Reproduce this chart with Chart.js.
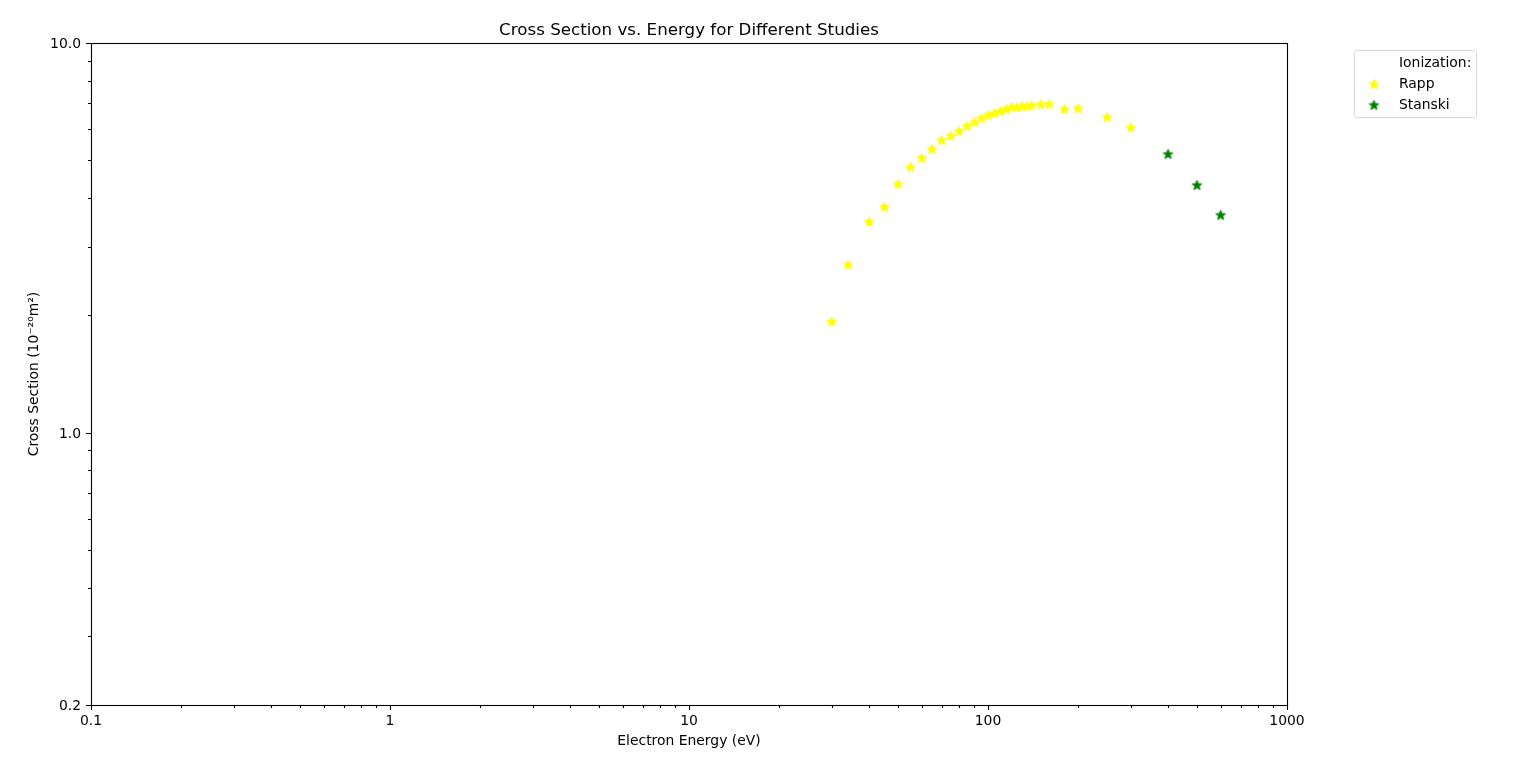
<!DOCTYPE html>
<html>
<head>
<meta charset="utf-8">
<script src="https://cdn.jsdelivr.net/npm/chart.js@4.4.1/dist/chart.umd.min.js"></script>
<style>
  html, body { margin: 0; padding: 0; background: #fff; }
  #wrap { width: 1536px; height: 762px; position: relative; }
</style>
</head>
<body>
<div id="wrap"><canvas id="canvas"></canvas></div>
<script>
// data
const rappEnergy = [30, 34, 40, 45, 50, 55, 60, 65, 70, 75, 80, 85, 90, 95, 100, 105, 110, 115, 120, 125, 130, 135, 140, 150, 160, 180, 200, 250, 300];
const rappCross = [1.93, 2.70, 3.48, 3.80, 4.35, 4.81, 5.07, 5.35, 5.64, 5.78, 5.95, 6.13, 6.27, 6.42, 6.54, 6.61, 6.69, 6.77, 6.85, 6.85, 6.89, 6.89, 6.93, 6.97, 6.98, 6.77, 6.80, 6.46, 6.08];
const stanskiEnergy = [400, 500, 600];
const stanskiCross = [5.19, 4.32, 3.62];

// axis ticks
const xMajorTicks = [0.1, 1, 10, 100, 1000];
const xTickLabels = ['0.1', '1', '10', '100', '1000'];
const yMajorTicks = [0.2, 1, 10];
const yTickLabels = ['0.2', '1.0', '10.0'];

const FONT = 'DejaVu Sans';

// minor ticks for a log axis
function minorTicks(min, max) {
  let out = [];
  let dec = Math.pow(10, Math.floor(Math.log10(min)));
  while (dec < max) {
    for (let k = 2; k <= 9; k++) {
      const v = +(k * dec).toPrecision(6);
      if (v > min && v < max) out.push(v);
    }
    dec *= 10;
  }
  return out;
}

// filled 5 point star, like matplotlib '*'
function starImage(color, r) {
  const size = Math.ceil(r * 2 + 2);
  const c = document.createElement('canvas');
  c.width = size;
  c.height = size;
  const g = c.getContext('2d');
  const cx = size / 2, cy = size / 2 + 0.4;
  g.beginPath();
  for (let i = 0; i < 10; i++) {
    const rad = i % 2 === 0 ? r : r * 0.45;
    const a = -Math.PI / 2 + i * Math.PI / 5;
    const px = cx + rad * Math.cos(a);
    const py = cy + rad * Math.sin(a);
    if (i === 0) g.moveTo(px, py); else g.lineTo(px, py);
  }
  g.closePath();
  g.fillStyle = color;
  g.fill();
  g.strokeStyle = color;
  g.lineWidth = 0.8;
  g.stroke();
  return c;
}

const blank = document.createElement('canvas');
blank.width = 1;
blank.height = 1;

function toPoints(xs, ys) {
  return xs.map((x, i) => ({ x: x, y: ys[i] }));
}

// spines + tick marks
const axesPlugin = {
  id: 'axesPlugin',
  afterDraw(chart) {
    const ctx = chart.ctx;
    const a = chart.chartArea;
    const xs = chart.scales.x, ys = chart.scales.y;
    ctx.save();
    ctx.strokeStyle = '#000';
    ctx.lineWidth = 1.1;
    ctx.strokeRect(Math.round(a.left) + 0.5, Math.round(a.top) + 0.5,
      Math.round(a.right - a.left), Math.round(a.bottom - a.top));

    ctx.beginPath();
    xMajorTicks.forEach(v => {
      const px = Math.round(xs.getPixelForValue(v)) + 0.5;
      ctx.moveTo(px, a.bottom); ctx.lineTo(px, a.bottom + 5);
    });
    minorTicks(0.1, 1000).forEach(v => {
      const px = Math.round(xs.getPixelForValue(v)) + 0.5;
      ctx.moveTo(px, a.bottom); ctx.lineTo(px, a.bottom + 3);
    });
    yMajorTicks.forEach(v => {
      const py = Math.round(ys.getPixelForValue(v)) + 0.5;
      ctx.moveTo(a.left, py); ctx.lineTo(a.left - 5, py);
    });
    minorTicks(0.2, 10).forEach(v => {
      if (yMajorTicks.includes(v)) return;
      const py = Math.round(ys.getPixelForValue(v)) + 0.5;
      ctx.moveTo(a.left, py); ctx.lineTo(a.left - 3, py);
    });
    ctx.stroke();
    ctx.restore();
  }
};

// matplotlib-like legend box in the upper right, outside the axes
const legendPlugin = {
  id: 'boxLegend',
  afterDraw(chart) {
    const ctx = chart.ctx;
    const a = chart.chartArea;
    const left = a.right + 67, top = 50, w = 122, h = 67;
    ctx.save();
    ctx.beginPath();
    ctx.roundRect(left + 0.5, top + 0.5, w, h, 3);
    ctx.fillStyle = 'rgba(255,255,255,0.8)';
    ctx.fill();
    ctx.strokeStyle = '#d6d6d6';
    ctx.lineWidth = 1;
    ctx.stroke();
    ctx.font = '13.9px "' + FONT + '"';
    ctx.textBaseline = 'middle';
    ctx.fillStyle = '#000';
    chart.data.datasets.forEach((ds, i) => {
      const y = top + 12 + i * 21;
      const img = ds.pointStyle;
      if (img && img.width > 1) {
        ctx.drawImage(img, left + 20 - img.width / 2, y + 1 - img.height / 2);
      }
      ctx.fillText(ds.label, left + 45, y + 1);
    });
    ctx.restore();
  }
};

const ctx = document.getElementById('canvas').getContext('2d');

new Chart(ctx, {
  type: 'scatter',
  data: {
    datasets: [
      {
        label: 'Ionization:',
        data: [],
        pointStyle: blank
      },
      {
        label: 'Rapp',
        data: toPoints(rappEnergy, rappCross),
        pointStyle: starImage('#ffff00', 5.2)
      },
      {
        label: 'Stanski',
        data: toPoints(stanskiEnergy, stanskiCross),
        pointStyle: starImage('#008000', 5.2)
      }
    ]
  },
  plugins: [axesPlugin, legendPlugin],
  options: {
    responsive: true,
    maintainAspectRatio: false,
    animation: false,
    devicePixelRatio: 1,
    layout: { padding: { left: 0, right: 249, top: 0, bottom: 0 } },
    plugins: {
      legend: { display: false },
      tooltip: { enabled: false },
      title: {
        display: true,
        text: 'Cross Section vs. Energy for Different Studies',
        fullSize: false,
        color: '#000',
        font: { family: FONT, size: 16.7, weight: 'normal', lineHeight: 1.2 },
        padding: { top: 21, bottom: 2 }
      }
    },
    scales: {
      x: {
        type: 'logarithmic',
        min: 0.1,
        max: 1000,
        grid: { display: false, drawTicks: false },
        border: { display: false },
        afterFit(scale) { scale.height = 57; },
        afterBuildTicks(scale) {
          scale.ticks = xMajorTicks.map(v => ({ value: v }));
        },
        ticks: {
          autoSkip: false,
          maxRotation: 0,
          padding: 8,
          color: '#000',
          font: { family: FONT, size: 13.9 },
          callback: function (value) {
            const i = xMajorTicks.indexOf(value);
            return i >= 0 ? xTickLabels[i] : '';
          }
        },
        title: {
          display: true,
          text: 'Electron Energy (eV)',
          color: '#000',
          font: { family: FONT, size: 13.9, lineHeight: 1.2 },
          padding: { top: 0, bottom: 12 }
        }
      },
      y: {
        type: 'logarithmic',
        min: 0.2,
        max: 10,
        grid: { display: false, drawTicks: false },
        border: { display: false },
        afterFit(scale) { scale.width = 91; },
        afterBuildTicks(scale) {
          scale.ticks = yMajorTicks.map(v => ({ value: v }));
        },
        ticks: {
          autoSkip: false,
          padding: 10,
          labelOffset: 1.5,
          color: '#000',
          font: { family: FONT, size: 13.9 },
          callback: function (value) {
            const i = yMajorTicks.indexOf(value);
            return i >= 0 ? yTickLabels[i] : '';
          }
        },
        title: {
          display: true,
          text: 'Cross Section (10⁻²⁰m²)',
          color: '#000',
          font: { family: FONT, size: 13.9, lineHeight: 1.2 },
          padding: { top: 26.5, bottom: 0 }
        }
      }
    }
  }
});
</script>
</body>
</html>
